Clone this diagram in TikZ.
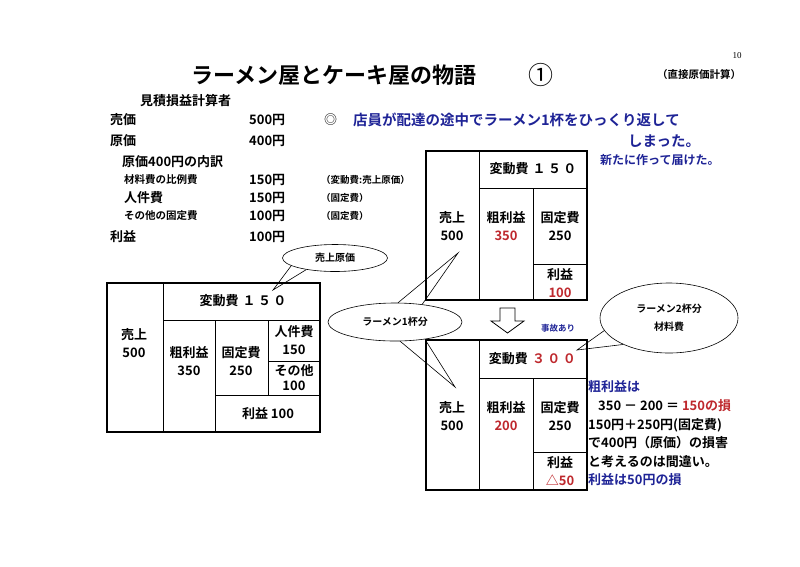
\documentclass[tikz,border=0pt]{standalone}
\usepackage{fontspec}
\setmainfont{Noto Sans CJK JP}[BoldFont={Noto Sans CJK JP Bold}]
\newfontfamily\pagenofont{Liberation Serif}
\usetikzlibrary{shapes.geometric}
\definecolor{inkblue}{RGB}{30,35,150}
\definecolor{inkred}{RGB}{190,40,45}
\tikzset{
  txt/.style={font=\bfseries\fontsize{13}{15}\selectfont, inner sep=0pt, anchor=west},
  smalltxt/.style={font=\bfseries\fontsize{10.5}{12}\selectfont, inner sep=0pt, anchor=west},
  notetxt/.style={font=\bfseries\fontsize{9.5}{11}\selectfont, inner sep=0pt, anchor=west},
  celltxt/.style={font=\bfseries\fontsize{13}{15}\selectfont, inner sep=0pt},
  boxframe/.style={line width=1.6pt},
  cellline/.style={line width=1pt},
  bubble/.style={draw, ellipse, line width=0.6pt, inner sep=0pt},
  tailline/.style={line width=0.6pt},
}
\newcommand{\wide}[1]{\hspace{1.2pt}#1\hspace{1.2pt}}
\begin{document}
\begin{tikzpicture}[x=1pt,y=-1pt]
\useasboundingbox (0,0) rectangle (800,566);
% title
\node[font=\bfseries\fontsize{22}{24}\selectfont, anchor=west] (title) at (188,75) {ラーメン屋とケーキ屋の物語};
\node[font=\fontsize{25}{27}\selectfont] (circno) at (541,75) {①};
\node[font=\bfseries\fontsize{10.5}{12}\selectfont] (method) at (699,75) {（直接原価計算）};
\node[font=\pagenofont\fontsize{9}{10}\selectfont] (pageno) at (737,56) {10};

% estimate
\node[txt] (est) at (140,101) {見積損益計算者};
\node[txt] (price) at (110,120) {売価};        \node[txt] (priceval) at (249,120) {500円};
\node[txt] (cost) at (110,141) {原価};         \node[txt] (costval) at (249,141) {400円};
\node[txt] (costhead) at (122,162) {原価400円の内訳};
\node[smalltxt] (mat) at (124,180) {材料費の比例費}; \node[txt] (matval) at (249,180) {150円};
\node[notetxt] (matnote) at (321,180) {（変動費:売上原価）};
\node[txt] (labor) at (124,198) {人件費};       \node[txt] (laborval) at (249,198) {150円};
\node[notetxt] (labornote) at (321,198) {（固定費）};
\node[smalltxt] (other) at (124,216) {その他の固定費}; \node[txt] (otherval) at (249,216) {100円};
\node[notetxt] (othernote) at (321,216) {（固定費）};
\node[txt] (profit) at (110,237) {利益};       \node[txt] (profitval) at (249,237) {100円};

% accident
\node[font=\fontsize{13}{15}\selectfont, anchor=west, inner sep=0pt] (mark) at (324,120) {◎};
\node[txt, text=inkblue, font=\bfseries\fontsize{14.5}{16}\selectfont] (acc1) at (353,120) {店員が配達の途中でラーメン1杯をひっくり返して};
\node[txt, text=inkblue, font=\bfseries\fontsize{14.5}{16}\selectfont] (acc2) at (628,141) {しまった。};
\node[txt, text=inkblue, font=\bfseries\fontsize{12}{14}\selectfont] (acc3) at (600,160) {新たに作って届けた。};

% left box
\draw[boxframe] (107,283) rectangle (320,432);
\draw[cellline] (163,283) -- (163,432);
\draw[cellline] (163,320) -- (320,320);
\draw[cellline] (215,320) -- (215,432);
\draw[cellline] (268,320) -- (268,395);
\draw[cellline] (268,361) -- (320,361);
\draw[cellline] (215,395) -- (320,395);
\node[celltxt, align=center] (lsales) at (134,343) {売上\\[3pt]500};
\node[celltxt] (lvar) at (243,301) {変動費 \wide{１}\wide{５}\wide{０}};
\node[celltxt, align=center] (lgross) at (189,361) {粗利益\\[3pt]350};
\node[celltxt, align=center] (lfixed) at (241,361) {固定費\\[3pt]250};
\node[celltxt, align=center] (llabor) at (294,340) {人件費\\[3pt]150};
\node[celltxt, align=center] (lother) at (294,378) {その他\\100};
\node[celltxt] (lprofit) at (268,414) {利益 100};

% top right box
\draw[boxframe] (426,151) rectangle (587,300);
\draw[cellline] (479,151) -- (479,300);
\draw[cellline] (479,188) -- (587,188);
\draw[cellline] (533,188) -- (533,300);
\draw[cellline] (533,264) -- (587,264);
\node[celltxt, align=center] (tsales) at (452,226) {売上\\[3pt]500};
\node[celltxt] (tvar) at (533,169) {変動費 \wide{１}\wide{５}\wide{０}};
\node[celltxt, align=center] (tgross) at (506,226) {粗利益\\[3pt]\textcolor{inkred}{350}};
\node[celltxt, align=center] (tfixed) at (560,226) {固定費\\[3pt]250};
\node[celltxt, align=center] (tprofit) at (560,283) {利益\\[3pt]\textcolor{inkred}{100}};

% arrow
\draw[line width=0.8pt] (500,308) -- (515,308) -- (515,321) -- (524,321) -- (507.5,333) -- (491,321) -- (500,321) -- cycle;
\node[notetxt, text=inkblue, font=\bfseries\fontsize{8.5}{10}\selectfont] (accident) at (541,328) {事故あり};

% bottom right box
\draw[boxframe] (426,340) rectangle (587,490);
\draw[cellline] (479,340) -- (479,490);
\draw[cellline] (479,378) -- (587,378);
\draw[cellline] (533,378) -- (533,490);
\draw[cellline] (533,452) -- (587,452);
\node[celltxt, align=center] (bsales) at (452,416) {売上\\[3pt]500};
\node[celltxt] (bvar) at (533,359) {変動費 \textcolor{inkred}{\wide{３}\wide{０}\wide{０}}};
\node[celltxt, align=center] (bgross) at (506,416) {粗利益\\[3pt]\textcolor{inkred}{200}};
\node[celltxt, align=center] (bfixed) at (560,416) {固定費\\[3pt]250};
\node[celltxt, align=center] (bprofit) at (560,471) {利益\\[3pt]\textcolor{inkred}{△50}};

% explanation
\node[txt, text=inkblue] (ex1) at (588,387) {粗利益は};
\node[txt] (ex2) at (598,406) {350 － 200 ＝ \textcolor{inkred}{150の損}};
\node[txt] (ex3) at (588,425) {150円＋250円(固定費)};
\node[txt] (ex4) at (588,443) {で400円（原価）の損害};
\node[txt] (ex5) at (588,462) {と考えるのは間違い。};
\node[txt, text=inkblue] (ex6) at (588,480) {利益は50円の損};

% bubbles
\node[bubble, minimum width=105pt, minimum height=27pt, font=\bfseries\fontsize{10}{12}\selectfont] (cogs) at (335,258) {売上原価};
\coordinate (cogstip) at (273,290);
\draw[tailline] (cogs.190) -- (cogstip) -- (cogs.202);

\node[bubble, minimum width=134pt, minimum height=38pt, font=\bfseries\fontsize{10}{12}\selectfont] (onebowl) at (395,322) {ラーメン1杯分};
\coordinate (onetipup) at (458,253);
\coordinate (onetipdown) at (455,387);
\draw[tailline] (onebowl.81) -- (onetipup) -- (onebowl.33);
\draw[tailline] (onebowl.-75) -- (onetipdown) -- (onebowl.-30);

\node[bubble, minimum width=138pt, minimum height=70pt, font=\bfseries\fontsize{10}{12}\selectfont, align=center] (twobowl) at (669,318) {ラーメン2杯分\\[6pt]材料費};
\coordinate (twotip) at (577,350);
\draw[tailline] (twobowl.191) -- (twotip) -- (twobowl.210);
\end{tikzpicture}
\end{document}
